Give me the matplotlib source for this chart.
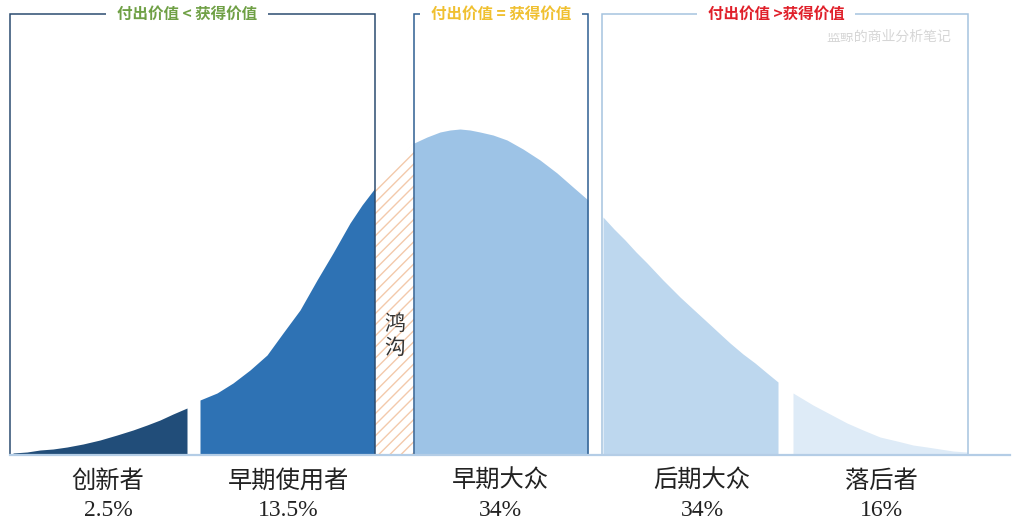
import matplotlib

matplotlib.use("Agg")
import matplotlib.pyplot as plt
import numpy as np

plt.rcParams["font.family"] = ["Noto Sans CJK SC", "DejaVu Sans"]
plt.rcParams["hatch.linewidth"] = 1.0

# bell curve: x position and height above the baseline
CURVE_X = [13, 27, 40, 53, 67, 83, 100, 117, 133, 147, 160, 173, 187,
           200, 217, 233, 250, 267, 283, 300, 317, 333, 350, 362, 375,
           385, 395, 405, 414, 427, 440, 450, 460, 470, 480, 493, 507, 523,
           540, 557, 573, 588, 603, 614, 625, 636, 647, 663, 680, 693, 705,
           718, 730, 743, 755, 767, 778, 793, 803, 813, 830, 847, 863, 880,
           897, 913, 927, 940, 953, 967]
CURVE_H = [2, 3, 5, 6, 8, 11, 15, 20, 25, 30, 35, 41, 47,
           55, 62, 72, 85, 100, 122, 145, 175, 202, 232, 250, 267,
           279, 290, 302, 312, 318, 323, 325, 326, 325, 323, 320, 315, 306,
           295, 282, 268, 255, 238, 226, 215, 203, 192, 175, 158, 146, 135,
           123, 112, 101, 92, 82, 73, 62, 56, 50, 41, 32, 25, 18,
           14, 10, 8, 6, 4, 3]

SEGMENTS = ["创新者", "早期使用者", "早期大众", "后期大众", "落后者"]
SHARES = ["2.5%", "13.5%", "34%", "34%", "16%"]
SEG_EDGES = [(13, 187), (200, 375), (414, 588), (603, 778), (793, 967)]
SEG_COLORS = ["#214d79", "#2e72b4", "#9dc3e6", "#bdd7ee", "#deebf7"]
LABEL_X = [108, 288, 500, 702, 881]

CHASM = (375, 414)
CHASM_LABEL = "鸿\n沟"

BOX_TITLES = ["付出价值 < 获得价值", "付出价值 = 获得价值", "付出价值 >获得价值"]
BOX_EDGES = [(10, 375), (414, 588), (602, 968)]
BOX_LINE = ["#2b4c70", "#2f5f92", "#a6c3df"]
TITLE_COLORS = ["#6fa045", "#f0c030", "#e0202a"]
TITLE_X = [187, 501, 776]

BASE = 455          # baseline, pixels from top
TOP = 455 - 14      # frame top, height above baseline


def main():
    fig = plt.figure(figsize=(10.24, 5.31), dpi=100, facecolor="white")
    ax = fig.add_axes([0, 0, 1, 1])
    ax.set_xlim(0, 1024)
    ax.set_ylim(BASE - 531, BASE)
    ax.axis("off")

    x = np.array(CURVE_X)
    h = np.array(CURVE_H)

    for (a, b), c in zip(SEG_EDGES, SEG_COLORS):
        m = (x >= a) & (x <= b)
        ax.fill_between(x[m], 0, h[m], color=c, lw=0, zorder=2)

    m = (x >= CHASM[0]) & (x <= CHASM[1])
    ax.fill_between(x[m], 0, h[m], facecolor="white", edgecolor="#f3c9ab",
                    hatch="///", lw=0, zorder=2)
    ax.text(sum(CHASM) / 2, BASE - 336, CHASM_LABEL, ha="center", va="center",
            fontsize=15, color="#333333", linespacing=1.15, zorder=5)

    # frames with titles breaking the top line
    for (x0, x1), lc, title, tc, tx in zip(BOX_EDGES, BOX_LINE, BOX_TITLES,
                                           TITLE_COLORS, TITLE_X):
        ax.plot([x0, x0, x1, x1], [0, TOP, TOP, 0], color=lc, lw=1.1,
                solid_joinstyle="miter", zorder=3)
        ax.text(tx, TOP, title, ha="center", va="center", fontsize=11.2,
                color=tc, fontweight="bold", zorder=4,
                bbox=dict(boxstyle="square,pad=0.7", fc="white", ec="none"))

    ax.plot([10, 1010], [0, 0], color="#b4cde6", lw=1.6, zorder=3)

    for lx, name, share in zip(LABEL_X, SEGMENTS, SHARES):
        ax.text(lx, BASE - 481, name, ha="center", va="center", fontsize=17.5,
                color="#222222")
        ax.text(lx, BASE - 510, share, ha="center", va="center", fontsize=17,
                color="#222222", family=["Liberation Serif", "DejaVu Serif"])

    ax.text(889, BASE - 37, "蓝鲸的商业分析笔记", ha="center", va="center",
            fontsize=10, color="#d6d6d6")

    fig.savefig("out.png", dpi=100, facecolor="white")
    plt.close(fig)


if __name__ == "__main__":
    main()
